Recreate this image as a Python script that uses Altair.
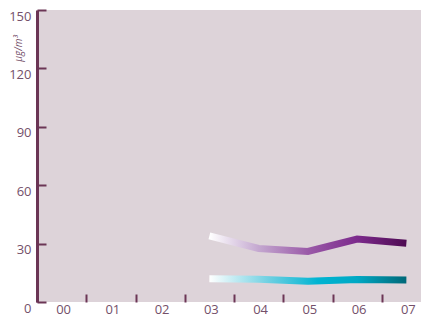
import altair as alt
import pandas as pd

years = ["00", "01", "02", "03", "04", "05", "06", "07"]
line_years = ["03", "04", "05", "06", "07"]
purple_vals = [34, 27.5, 26, 32.3, 30.2]
cyan_vals = [12, 11.7, 10.7, 11.5, 11.3]
y_ticks = [0, 30, 60, 90, 120, 150]

AX = "#6b3555"
LBL = "#74506a"
BG = "#ddd3d9"
FONT = "Open Sans"

W = 384
H = 292

dfp = pd.DataFrame({"year": line_years, "v": purple_vals})
dfc = pd.DataFrame({"year": line_years, "v": cyan_vals})

xscale = alt.Scale(domain=years, paddingInner=0, paddingOuter=0, range=[0, 394])
yscale = alt.Scale(domain=[0, 150], nice=False, zero=True)

purple_grad = alt.Gradient(
    gradient="linear", x1=0, x2=1, y1=0, y2=0,
    stops=[
        alt.GradientStop(color="#ffffff", offset=0),
        alt.GradientStop(color="#c4a8d0", offset=0.25),
        alt.GradientStop(color="#9a5aa8", offset=0.5),
        alt.GradientStop(color="#7c2a8c", offset=0.75),
        alt.GradientStop(color="#4e0a52", offset=1),
    ],
)
cyan_grad = alt.Gradient(
    gradient="linear", x1=0, x2=1, y1=0, y2=0,
    stops=[
        alt.GradientStop(color="#ffffff", offset=0),
        alt.GradientStop(color="#6fd0e2", offset=0.3),
        alt.GradientStop(color="#00b4d2", offset=0.55),
        alt.GradientStop(color="#00a8c4", offset=0.75),
        alt.GradientStop(color="#006878", offset=1),
    ],
)

purple = alt.Chart(dfp).mark_line(stroke=purple_grad, strokeWidth=7, strokeJoin="miter").encode(
    x=alt.X("year:O", scale=xscale, axis=alt.Axis(
        orient="bottom", ticks=False, domain=False, labelAngle=0,
        labelFont=FONT, labelFontSize=13, labelColor=LBL, labelPadding=1,
        labelBaseline="top", labelOffset=2, title=None)),
    y=alt.Y("v:Q", scale=yscale, axis=alt.Axis(
        orient="left", values=y_ticks, ticks=False, domain=True,
        domainColor=AX, domainWidth=3, grid=False,
        labelFont=FONT, labelFontSize=13, labelColor=LBL, labelPadding=6,
        labelBaseline="top", labelOffset=0,
        title="µg/m³", titleFont=FONT, titleFontSize=10, titleFontStyle="italic",
        titleFontWeight="normal", titleColor=LBL, titleX=-19, titleY=38,
        titleAngle=270, titleAlign="center", titleBaseline="middle")),
)

cyan = alt.Chart(dfc).mark_line(stroke=cyan_grad, strokeWidth=7, strokeJoin="miter").encode(
    x=alt.X("year:O", scale=xscale, axis=alt.Axis(
        orient="top", offset=-H, labels=False, domain=False, ticks=True,
        tickBand="extent", tickSize=8, tickWidth=2, tickColor=AX, title=None)),
    y=alt.Y("v:Q", scale=yscale, axis=alt.Axis(
        orient="right", offset=-W, values=y_ticks, labels=False, domain=False,
        ticks=True, tickSize=9, tickWidth=2, tickColor=AX, grid=False, title=None)),
)

chart = alt.layer(purple, cyan).resolve_axis(x="independent", y="independent").properties(
    width=W, height=H,
    autosize=alt.AutoSizeParams(type="none"),
    padding={"left": 29, "top": 2, "right": 0, "bottom": 15},
    background="white",
).configure_view(fill=BG, stroke=None)

chart.save("out.html", embed_options={"renderer": "svg", "actions": False})
